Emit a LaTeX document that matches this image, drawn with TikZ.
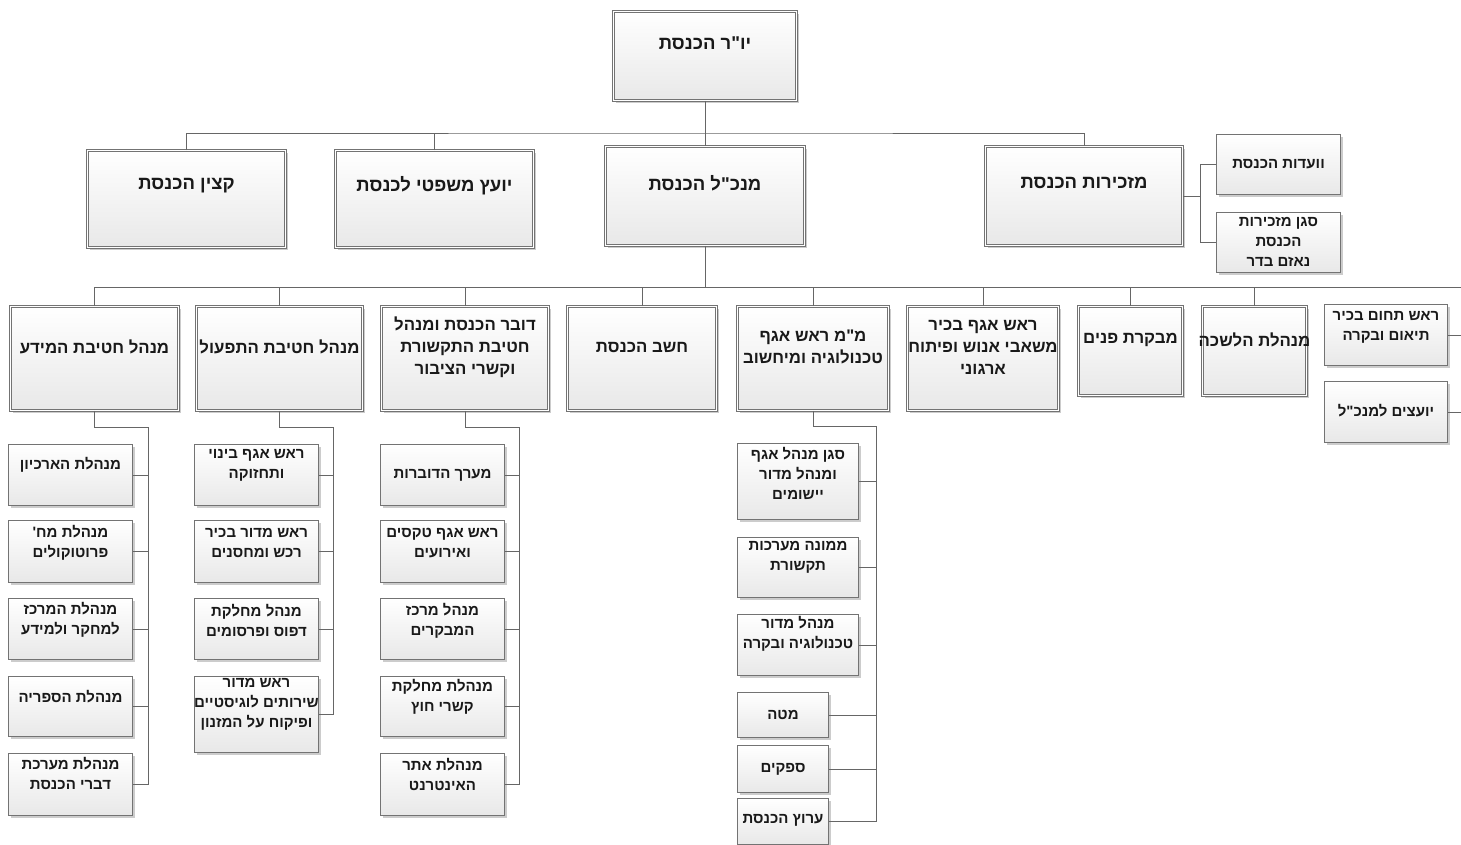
\documentclass[tikz,border=0pt]{standalone}
\usepackage{fontspec}
\newfontfamily\hebfont[Script=Hebrew, BoldFont={Liberation Sans Bold}]{Liberation Sans}
\TeXXeTstate=1
\usetikzlibrary{shadows}
\tikzset{
  conn/.style={draw=black!60, line width=0.8pt},
  boxshadow/.style={drop shadow={shadow xshift=2pt, shadow yshift=-2pt, fill=black!40, opacity=0.5}},
  bigbox/.style={draw=black!55, line width=0.7pt, double=white, double distance=1.6pt,
    top color=white, bottom color=black!9, boxshadow, inner sep=0pt},
  smallbox/.style={draw=black!55, line width=0.8pt, top color=white, bottom color=black!9,
    boxshadow, inner sep=0pt},
  ttxt/.style={font=\hebfont\bfseries\fontsize{18.5}{21}\selectfont, align=center, text=black!90},
  ltxt/.style={font=\hebfont\bfseries\fontsize{16.8}{22}\selectfont, align=center, text=black!90},
  stxt/.style={font=\hebfont\bfseries\fontsize{15}{20}\selectfont, align=center, text=black!90}
}
\begin{document}
\begin{tikzpicture}[x=1pt,y=-1pt]
\useasboundingbox (0,0) rectangle (1461,844);

% top levels
\node[bigbox, minimum width=183, minimum height=89] (chair) at (705,56) {};
\node[ttxt] (chair-t) at (705,43) {\beginR יו"ר הכנסת\endR};

\node[bigbox, minimum width=198, minimum height=97] (katzin) at (186.5,199) {};
\node[ttxt] (katzin-t) at (186.5,186) {\beginR קצין הכנסת\endR};
\node[bigbox, minimum width=198, minimum height=97] (yoetz) at (434.5,199) {};
\node[ttxt] (yoetz-t) at (434.5,186) {\beginR יועץ משפטי לכנסת\endR};
\node[bigbox, minimum width=199, minimum height=99] (mankal) at (705,196) {};
\node[ttxt] (mankal-t) at (705,183) {\beginR מנכ"ל הכנסת\endR};
\node[bigbox, minimum width=197, minimum height=99] (mazkirut) at (1084,196) {};
\node[ttxt] (mazkirut-t) at (1084,183) {\beginR מזכירות הכנסת\endR};

\node[smallbox, minimum width=124, minimum height=60] (vaadot) at (1278.5,164.5) {};
\node[stxt] (vaadot-t) at (1278.5,164) {\beginR וועדות הכנסת\endR};
\node[smallbox, minimum width=124, minimum height=60] (sgan) at (1278.5,242.5) {};
\node[stxt] (sgan-t) at (1278.5,242) {\beginR סגן מזכירות\endR\\\beginR הכנסת\endR\\\beginR נאזם בדר\endR};

\coordinate (bus2) at (705,133);
\draw[conn] (chair.south) -- (mankal.north);
\draw[conn] (katzin.north) |- (bus2) -| (mazkirut.north);
\draw[conn] (yoetz.north) -- (yoetz.north |- bus2);
\coordinate (mz-s) at (1200,196);
\draw[conn] (mazkirut.east) -- (mz-s);
\draw[conn] (vaadot.west) -| (mz-s) |- (sgan.west);

% divisions
\node[bigbox, minimum width=168, minimum height=104] (info) at (94.5,358.5) {};
\node[ltxt] (info-t) at (94.5,347) {\beginR מנהל חטיבת המידע\endR};
\node[bigbox, minimum width=166, minimum height=104] (tiful) at (279.5,358.5) {};
\node[ltxt] (tiful-t) at (279.5,347) {\beginR מנהל חטיבת התפעול\endR};
\node[bigbox, minimum width=167, minimum height=104] (dover) at (465,358.5) {};
\node[ltxt] (dover-t) at (465,347) {\beginR דובר הכנסת ומנהל\endR\\\beginR חטיבת התקשורת\endR\\\beginR וקשרי הציבור\endR};
\node[bigbox, minimum width=149, minimum height=104] (hashav) at (642,358.5) {};
\node[ltxt] (hashav-t) at (642,347) {\beginR חשב הכנסת\endR};
\node[bigbox, minimum width=151, minimum height=104] (tech) at (813,358.5) {};
\node[ltxt] (tech-t) at (813,347) {\beginR מ"מ ראש אגף\endR\\\beginR טכנולוגיה ומיחשוב\endR};
\node[bigbox, minimum width=151, minimum height=104] (hr) at (983,358.5) {};
\node[ltxt] (hr-t) at (983,347) {\beginR ראש אגף בכיר\endR\\\beginR משאבי אנוש ופיתוח\endR\\\beginR ארגוני\endR};
\node[bigbox, minimum width=104, minimum height=89] (bikoret) at (1130.5,351) {};
\node[ltxt] (bikoret-t) at (1130.5,340) {\beginR מבקרת פנים\endR};
\node[bigbox, minimum width=104, minimum height=89] (lishka) at (1254.5,351) {};
\node[ltxt] (lishka-t) at (1254.5,340) {\beginR מנהלת הלשכה\endR};
\node[smallbox, minimum width=123, minimum height=61] (tehum) at (1386,335) {};
\node[stxt] (tehum-t) at (1386,327) {\beginR ראש תחום בכיר\endR\\\beginR תיאום ובקרה\endR};
\node[smallbox, minimum width=123, minimum height=61] (yoatzim) at (1386,412) {};
\node[stxt] (yoatzim-t) at (1386,411) {\beginR יועצים למנכ"ל\endR};

\coordinate (bus3) at (705,287);
\coordinate (edge) at (1461,287);
\draw[conn] (mankal.south) -- (bus3);
\draw[conn] (info.north) |- (edge);
\foreach \n in {tiful,dover,hashav,tech,hr,bikoret,lishka}
  \draw[conn] (\n.north) -- (\n.north |- bus3);
\draw[conn] (tehum.east) -- (tehum.east -| edge);
\draw[conn] (yoatzim.east) -- (yoatzim.east -| edge);

% information division
\node[smallbox, minimum width=124, minimum height=61] (info1) at (70.5,475) {};
\node[stxt] (info1-t) at (70.5,465) {\beginR מנהלת הארכיון\endR};
\node[smallbox, minimum width=124, minimum height=62] (info2) at (70.5,551.5) {};
\node[stxt] (info2-t) at (70.5,543) {\beginR מנהלת מח'\endR\\\beginR פרוטוקולים\endR};
\node[smallbox, minimum width=124, minimum height=61] (info3) at (70.5,629) {};
\node[stxt] (info3-t) at (70.5,620) {\beginR מנהלת המרכז\endR\\\beginR למחקר ולמידע\endR};
\node[smallbox, minimum width=124, minimum height=60] (info4) at (70.5,706.5) {};
\node[stxt] (info4-t) at (70.5,697) {\beginR מנהלת הספריה\endR};
\node[smallbox, minimum width=124, minimum height=62] (info5) at (70.5,784.5) {};
\node[stxt] (info5-t) at (70.5,773) {\beginR מנהלת מערכת\endR\\\beginR דברי הכנסת\endR};
\coordinate (info-s) at (148,427);
\draw[conn] (info.south) |- (info-s) |- (info5.east);
\foreach \n in {info1,info2,info3,info4}
  \draw[conn] (\n.east) -- (\n.east -| info-s);

% operations division
\node[smallbox, minimum width=124, minimum height=61] (tif1) at (256.5,475) {};
\node[stxt] (tif1-t) at (256.5,465) {\beginR ראש אגף בינוי\endR\\\beginR ותחזוקה\endR};
\node[smallbox, minimum width=124, minimum height=62] (tif2) at (256.5,551.5) {};
\node[stxt] (tif2-t) at (256.5,543) {\beginR ראש מדור בכיר\endR\\\beginR רכש ומחסנים\endR};
\node[smallbox, minimum width=124, minimum height=61] (tif3) at (256.5,629) {};
\node[stxt] (tif3-t) at (256.5,620) {\beginR מנהל מחלקת\endR\\\beginR דפוס ופרסומים\endR};
\node[smallbox, minimum width=124, minimum height=76] (tif4) at (256.5,714.5) {};
\node[stxt] (tif4-t) at (256.5,704) {\beginR ראש מדור\endR\\\beginR שירותים לוגיסטיים\endR\\\beginR ופיקוח על המזנון\endR};
\coordinate (tif-s) at (333,427);
\draw[conn] (tiful.south) |- (tif-s) |- (tif4.east);
\foreach \n in {tif1,tif2,tif3}
  \draw[conn] (\n.east) -- (\n.east -| tif-s);

% spokesman
\node[smallbox, minimum width=124, minimum height=61] (dov1) at (442.5,475) {};
\node[stxt] (dov1-t) at (442.5,475) {\beginR מערך הדוברות\endR};
\node[smallbox, minimum width=124, minimum height=62] (dov2) at (442.5,551.5) {};
\node[stxt] (dov2-t) at (442.5,543) {\beginR ראש אגף טקסים\endR\\\beginR ואירועים\endR};
\node[smallbox, minimum width=124, minimum height=61] (dov3) at (442.5,629) {};
\node[stxt] (dov3-t) at (442.5,621) {\beginR מנהל מרכז\endR\\\beginR המבקרים\endR};
\node[smallbox, minimum width=124, minimum height=60] (dov4) at (442.5,706.5) {};
\node[stxt] (dov4-t) at (442.5,697) {\beginR מנהלת מחלקת\endR\\\beginR קשרי חוץ\endR};
\node[smallbox, minimum width=124, minimum height=62] (dov5) at (442.5,784.5) {};
\node[stxt] (dov5-t) at (442.5,774) {\beginR מנהלת אתר\endR\\\beginR האינטרנט\endR};
\coordinate (dov-s) at (519,427);
\draw[conn] (dover.south) |- (dov-s) |- (dov5.east);
\foreach \n in {dov1,dov2,dov3,dov4}
  \draw[conn] (\n.east) -- (\n.east -| dov-s);

% technology
\node[smallbox, minimum width=121, minimum height=76] (tech1) at (798,481.5) {};
\node[stxt] (tech1-t) at (798,473) {\beginR סגן מנהל אגף\endR\\\beginR ומנהל מדור\endR\\\beginR יישומים\endR};
\node[smallbox, minimum width=121, minimum height=60] (tech2) at (798,567.5) {};
\node[stxt] (tech2-t) at (798,557) {\beginR ממונה מערכות\endR\\\beginR תקשורת\endR};
\node[smallbox, minimum width=121, minimum height=61] (tech3) at (798,645) {};
\node[stxt] (tech3-t) at (798,634) {\beginR מנהל מדור\endR\\\beginR טכנולוגיה ובקרה\endR};
\node[smallbox, minimum width=91, minimum height=45] (tech4) at (783,715) {};
\node[stxt] (tech4-t) at (783,715) {\beginR מטה\endR};
\node[smallbox, minimum width=91, minimum height=47] (tech5) at (783,769) {};
\node[stxt] (tech5-t) at (783,769) {\beginR ספקים\endR};
\node[smallbox, minimum width=91, minimum height=46] (tech6) at (783,821.5) {};
\node[stxt] (tech6-t) at (783,820) {\beginR ערוץ הכנסת\endR};
\coordinate (tech-s) at (876,426);
\draw[conn] (tech.south) |- (tech-s) |- (tech6.east);
\foreach \n in {tech1,tech2,tech3,tech4,tech5}
  \draw[conn] (\n.east) -- (\n.east -| tech-s);
\end{tikzpicture}
\end{document}
